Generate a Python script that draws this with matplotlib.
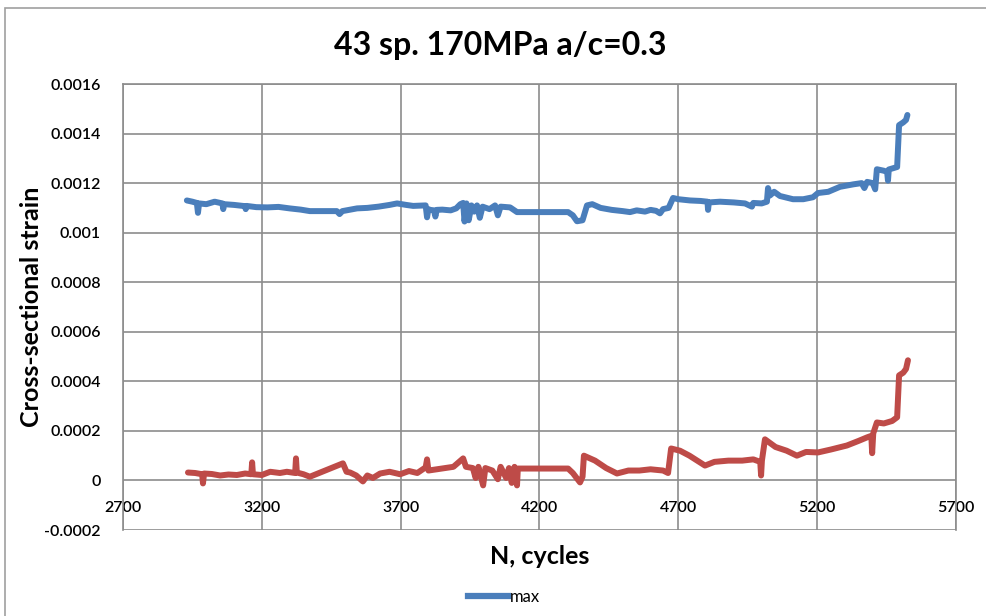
import matplotlib
matplotlib.use("Agg")
import matplotlib.pyplot as plt
from matplotlib.patches import Rectangle
from matplotlib.lines import Line2D

plt.rcParams['font.family'] = ['Lato', 'DejaVu Sans']

title = "43 sp. 170MPa a/c=0.3"
x_label = "N, cycles"
y_label = "Cross-sectional strain"
x_ticks = [2700, 3200, 3700, 4200, 4700, 5200, 5700]
y_ticks = [-0.0002, 0, 0.0002, 0.0004, 0.0006, 0.0008, 0.001, 0.0012, 0.0014, 0.0016]
y_tick_labels = ["-0.0002", "0", "0.0002", "0.0004", "0.0006", "0.0008", "0.001", "0.0012", "0.0014", "0.0016"]

max_n = [2930, 2950, 2966, 2970, 2974, 3000, 3030, 3058, 3061, 3064, 3100, 3140, 3142, 3145,
         3180, 3220, 3260, 3300, 3340, 3373, 3420, 3470, 3480, 3490, 3543, 3580, 3620, 3660,
         3687, 3720, 3745, 3790, 3795, 3800, 3806, 3820, 3825, 3830, 3850, 3880, 3900, 3915,
         3925, 3930, 3937, 3945, 3955, 3965, 3975, 3985, 3995, 4020, 4040, 4050, 4060, 4094,
         4119, 4200, 4303, 4320, 4335, 4355, 4371, 4390, 4420, 4460, 4500, 4526, 4550, 4580,
         4600, 4620, 4634, 4645, 4665, 4681, 4700, 4742, 4780, 4805, 4807, 4810, 4850, 4900,
         4940, 4965, 4970, 5000, 5019, 5023, 5030, 5045, 5066, 5113, 5150, 5185, 5203, 5240,
         5282, 5330, 5360, 5370, 5380, 5400, 5409, 5415, 5440, 5452, 5455, 5458, 5488, 5495,
         5510, 5520, 5525]
max_strain_e3 = [1.130, 1.125, 1.120, 1.080, 1.118, 1.115, 1.125, 1.118, 1.095, 1.115, 1.112,
                 1.107, 1.095, 1.108, 1.103, 1.102, 1.104, 1.098, 1.093, 1.087, 1.087, 1.087,
                 1.075, 1.087, 1.098, 1.100, 1.105, 1.112, 1.118, 1.112, 1.108, 1.110, 1.062,
                 1.095, 1.092, 1.090, 1.065, 1.092, 1.093, 1.090, 1.098, 1.115, 1.120, 1.045,
                 1.118, 1.050, 1.110, 1.085, 1.110, 1.060, 1.105, 1.095, 1.110, 1.070, 1.105,
                 1.102, 1.083, 1.083, 1.083, 1.070, 1.046, 1.050, 1.110, 1.115, 1.100, 1.092,
                 1.087, 1.083, 1.090, 1.085, 1.092, 1.088, 1.078, 1.095, 1.100, 1.140, 1.135,
                 1.130, 1.128, 1.125, 1.092, 1.122, 1.125, 1.122, 1.118, 1.105, 1.120, 1.118,
                 1.125, 1.180, 1.150, 1.165, 1.148, 1.135, 1.135, 1.143, 1.160, 1.165, 1.185,
                 1.195, 1.200, 1.180, 1.205, 1.200, 1.175, 1.256, 1.250, 1.245, 1.210, 1.255,
                 1.265, 1.434, 1.445, 1.455, 1.475]

min_n = [2934, 2960, 2985, 2988, 2992, 3020, 3050, 3080, 3110, 3140, 3162, 3165, 3168, 3200,
         3230, 3265, 3290, 3320, 3323, 3326, 3350, 3373, 3492, 3505, 3518, 3540, 3564, 3580,
         3600, 3626, 3660, 3698, 3730, 3760, 3790, 3795, 3800, 3830, 3860, 3890, 3925, 3935,
         3960, 3970, 3980, 3997, 4005, 4030, 4050, 4060, 4080, 4090, 4100, 4110, 4119, 4122,
         4200, 4303, 4320, 4346, 4355, 4360, 4400, 4440, 4479, 4520, 4560, 4600, 4645, 4663,
         4674, 4706, 4740, 4796, 4830, 4880, 4930, 4970, 4995, 4998, 5001, 5012, 5050, 5090,
         5127, 5160, 5203, 5250, 5307, 5350, 5380, 5395, 5398, 5402, 5415, 5440, 5470, 5488,
         5495, 5510, 5520, 5527]
min_strain_e5 = [3.2, 3.0, 2.5, -1.2, 2.8, 2.6, 2.0, 2.4, 2.2, 2.8, 2.5, 7.3, 2.5, 2.2,
                 3.5, 3.0, 3.5, 3.0, 8.9, 3.2, 2.5, 1.5, 6.9, 3.5, 3.2, 2.0, -0.4, 2.0,
                 1.0, 2.8, 3.5, 2.5, 3.8, 3.0, 5.3, 8.5, 4.0, 4.5, 5.0, 5.5, 8.9, 5.5,
                 5.0, 1.0, 5.5, -2.0, 5.0, 4.0, 0.5, 5.5, 1.0, 5.0, -1.0, 5.5, -2.0, 4.8,
                 4.8, 4.8, 3.0, -0.8, 1.5, 10.0, 8.0, 5.0, 2.8, 4.0, 4.0, 4.5, 4.0, 3.0,
                 12.9, 12.0, 10.0, 6.0, 7.5, 8.0, 8.0, 8.5, 7.5, 2.0, 8.0, 16.6, 13.5, 12.0,
                 10.0, 11.5, 11.3, 12.5, 14.1, 16.0, 17.4, 18.0, 11.0, 19.0, 23.4, 23.0, 24.0, 25.5,
                 42.4, 43.5, 45.0, 48.5]

blue = "#4A7EBB"
red = "#BE4B48"
grid_c = "#8C8C8C"

fig = plt.figure(figsize=(9.87, 6.16), dpi=100)
ax = fig.add_axes([123/987, 1-530/616, (956-123)/987, (530-84)/616])

ax.plot(max_n, [v*1e-3 for v in max_strain_e3], color=blue, lw=4.3,
        solid_joinstyle='round', solid_capstyle='round', zorder=3)
ax.plot(min_n, [v*1e-5 for v in min_strain_e5], color=red, lw=4.3,
        solid_joinstyle='round', solid_capstyle='round', zorder=3)

ax.set_xlim(2700, 5700)
ax.set_ylim(-0.0002, 0.0016)
ax.set_xticks(x_ticks)
ax.set_yticks(y_ticks)
ax.set_yticklabels(y_tick_labels)
ax.grid(True, color=grid_c, lw=1.2)
ax.set_axisbelow(True)

for s in ['top', 'right', 'left']:
    ax.spines[s].set_color(grid_c)
    ax.spines[s].set_linewidth(1.2)
ax.spines['bottom'].set_position(('data', 0))
ax.spines['bottom'].set_visible(False)
ax.tick_params(axis='x', length=0, pad=15, labelsize=11.5)
ax.tick_params(axis='y', length=0, pad=16, labelsize=11.5)
for lab in ax.get_xticklabels() + ax.get_yticklabels():
    lab.set_fontweight('semibold')

fig.text(500/987, 1-45/616, title, ha='center', va='center', fontsize=23, fontweight='bold')
fig.text(540/987, 1-556/616, x_label, ha='center', va='center', fontsize=18, fontweight='bold')
fig.text(32/987, 1-307/616, y_label, ha='center', va='center', fontsize=18, fontweight='bold', rotation=90)

handle = Line2D([], [], color=blue, lw=4.5)
fig.legend([handle], ["max"], loc='center', bbox_to_anchor=(504/987, 1-597/616), frameon=False,
           fontsize=12, handlelength=2.4, handletextpad=0.1)

fig.patches.append(Rectangle((5/987, -0.1), 1.2, 1.1 - 8/616, transform=fig.transFigure,
                             fill=False, edgecolor="#A0A0A0", lw=1.2))

fig.savefig("out.png", dpi=100)
